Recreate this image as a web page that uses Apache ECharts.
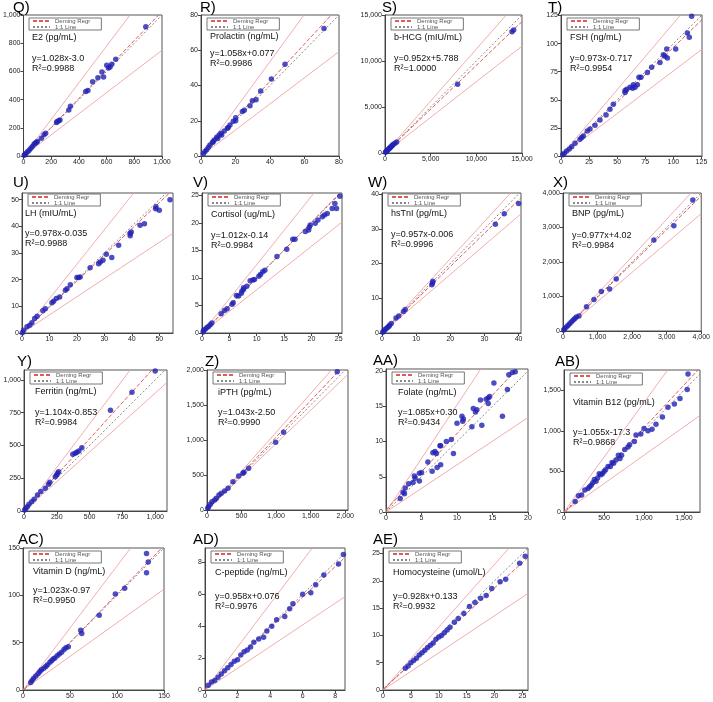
<!DOCTYPE html>
<html><head><meta charset="utf-8">
<script src="https://cdn.jsdelivr.net/npm/echarts@6/dist/echarts.min.js"></script>
<style>html,body{margin:0;padding:0;background:#fff}#c{width:713px;height:702px}</style>
</head><body><div id="c"></div><script>
// ---------- data ----------
const panelLabels = ['Q)','R)','S)','T)','U)','V)','W)','X)','Y)','Z)','AA)','AB)','AC)','AD)','AE)'];
const analytes = ['E2 (pg/mL)','Prolactin (ng/mL)','b-HCG (mIU/mL)','FSH (ng/mL)','LH (mIU/mL)','Cortisol (ug/mL)','hsTnI (pg/mL)','BNP (pg/mL)','Ferritin (ng/mL)','iPTH (pg/mL)','Folate (ng/mL)','Vitamin B12 (pg/mL)','Vitamin D (ng/mL)','C-peptide (ng/mL)','Homocysteine (umol/L)'];
const equations = ['y=1.028x-3.0','y=1.058x+0.077','y=0.952x+5.788','y=0.973x-0.717','y=0.978x-0.035','y=1.012x-0.14','y=0.957x-0.006','y=0.977x+4.02','y=1.104x-0.853','y=1.043x-2.50','y=1.085x+0.30','y=1.055x-17.3','y=1.023x-0.97','y=0.958x+0.076','y=0.928x+0.133'];
const r2Texts = ['0.9988','0.9986','1.0000','0.9954','0.9988','0.9984','0.9996','0.9984','0.9984','0.9990','0.9434','0.9868','0.9950','0.9976','0.9932'];
const demingSlopes = [1.028,1.058,0.952,0.973,0.978,1.012,0.957,0.977,1.104,1.043,1.085,1.055,1.023,0.958,0.928];
const demingIntercepts = [-3.0,0.077,5.788,-0.717,-0.035,-0.14,-0.006,4.02,-0.853,-2.50,0.30,-17.3,-0.97,0.076,0.133];
const upperSlopes = [1.30,1.34,1.13,1.18,1.29,1.24,1.07,1.08,1.33,1.11,1.52,1.35,1.31,1.35,1.15];
const lowerSlopes = [0.75,0.74,0.775,0.757,0.68,0.786,0.843,0.851,0.90,0.95,0.67,0.70,0.71,0.68,0.68];
const xMaxes = [1000,80,15000,125.5,55,25.6,40.7,4000,1090,2040,20,1700,150,8.6,26];
const yMaxes = [1000,80,15000,125.5,52.5,25.4,40.3,4000,1076,2000,20.3,1750,150,8.9,26];
const tickSteps = [200,20,5000,25,10,5,10,1000,250,500,5,500,50,2,5];

const ptsQ = [[883,917],[666,686],[637,650],[625,631],[613,624],[601,643],[578,560],[566,595],[537,555],[499,526],[465,464],[449,457],[339,352],[327,326],[263,255],[255,250],[243,245],[239,238],[160,162],[148,150],[129,126],[100,102],[92,96],[84,90],[76,83],[64,67],[53,55],[41,40],[29,31],[17,17],[10,10],[5,5]];
const ptsR = [[71.3,72.4],[48.7,52.0],[40.8,43.7],[34.6,36.9],[31.9,31.9],[29.8,31.4],[28.4,28.5],[25.1,25.9],[24.0,25.3],[20.1,21.7],[20.1,20.0],[18.7,19.7],[16.8,17.6],[15.8,16.1],[15.3,15.7],[13.5,14.2],[12.0,11.9],[11.6,12.9],[10.6,11.9],[9.7,10.0],[9.1,10.6],[7.7,9.1],[7.1,8.1],[6.6,7.6],[5.2,6.2],[4.3,4.9],[3.3,3.6],[2.3,2.5],[1.4,1.3]];
const ptsS = [[14087,13367],[13904,13185],[7950,7480],[1280,1199],[1100,1070],[915,944],[800,820],[732,763],[600,620],[549,581],[450,470],[366,400],[250,280],[183,218],[100,130],[50,70]];
const ptsT = [[116.3,124.4],[112.5,109.5],[114.2,105.7],[102.1,95.2],[94.1,95.2],[92.6,88.7],[94.7,87.2],[91.1,90.2],[88.1,83.3],[80.7,78.9],[76.9,74.4],[71.2,70.2],[69.4,70.2],[68.0,63.4],[65.9,61.3],[64.4,63.4],[63.8,60.4],[61.4,61.3],[58.5,59.5],[57.0,58.3],[57.0,56.5],[46.6,46.1],[43.6,41.7],[40.1,36.6],[34.7,32.1],[30.3,27.4],[25.8,24.1],[23.4,22.3],[19.9,17.9],[18.4,16.4],[16.9,14.9],[12.5,11.3],[9.5,8.3],[7.4,6.3],[5.0,4.5],[3.0,2.4],[1.5,1.2]];
const ptsU = [[53.9,50.0],[48.8,47.3],[48.7,46.6],[50.0,46.0],[44.6,41.0],[43.0,40.4],[39.8,37.9],[39.4,37.3],[39.4,36.5],[35.2,32.9],[32.7,28.3],[30.7,29.5],[29.5,27.3],[28.5,26.6],[27.9,26.0],[24.8,24.5],[21.2,21.0],[20.6,20.8],[20.0,20.8],[17.6,18.1],[16.4,16.6],[15.8,16.0],[13.7,13.5],[12.5,12.9],[11.5,11.9],[10.9,11.3],[8.5,9.1],[7.6,8.3],[5.5,6.3],[4.6,5.4],[3.6,3.8],[2.8,2.9],[1.8,2.3],[0.6,1.0],[0.1,0.1]];
const ptsV = [[25.2,24.8],[24.3,23.5],[24.6,22.6],[23.8,22.6],[22.9,21.7],[22.4,21.4],[22.0,21.1],[21.2,20.5],[20.7,19.9],[19.8,19.6],[19.6,19.2],[19.5,18.7],[18.9,18.4],[17.0,17.0],[16.6,17.0],[15.5,15.2],[13.7,13.9],[11.5,11.4],[11.1,11.1],[10.7,10.6],[10.4,10.3],[9.6,9.7],[9.3,9.6],[8.8,9.5],[8.2,8.5],[7.6,8.2],[7.6,7.9],[7.3,7.6],[7.2,7.2],[6.7,6.7],[6.3,6.8],[5.7,5.5],[5.5,5.2],[4.6,4.4],[4.1,4.1],[3.5,3.5],[1.8,1.8],[1.5,1.5],[1.2,1.2],[0.9,1.0],[0.6,0.7],[0.3,0.5],[0.2,0.2]];
const ptsW = [[40.0,37.3],[35.8,34.3],[33.2,31.3],[14.9,14.9],[14.8,14.4],[14.6,13.9],[6.8,6.8],[6.3,6.2],[4.9,4.9],[4.1,4.3],[2.7,2.7],[2.2,2.2],[2.0,1.9],[1.6,1.6],[1.2,1.2],[0.8,0.9],[0.5,0.5],[0.2,0.2]];
const ptsX = [[3757,3798],[3208,3048],[2630,2635],[1541,1510],[1108,1144],[1349,1221],[896,913],[680,700],[462,433],[385,404],[337,356],[289,308],[240,260],[192,212],[144,163],[96,115],[48,67],[19,29]];
const ptsY = [[1000,1069],[823,906],[659,768],[441,483],[418,458],[403,448],[390,440],[372,433],[264,300],[256,288],[249,275],[238,262],[197,219],[187,204],[162,173],[128,148],[103,122],[77,89],[59,71],[38,51],[26,33],[13,20],[5,8]];
const ptsZ = [[1884,1976],[1108,1110],[993,967],[602,595],[535,538],[520,524],[458,486],[376,405],[304,310],[255,271],[207,238],[173,214],[135,167],[111,143],[72,119],[48,81],[24,48],[10,24]];
const ptsAA = [[17.3,19.5],[17.8,19.8],[18.2,19.9],[17.1,17.4],[15.2,18.3],[14.6,16.4],[14.4,16.2],[14.1,16.0],[14.4,15.4],[13.3,15.9],[12.8,14.5],[12.6,14.2],[12.3,14.7],[16.4,13.6],[10.7,13.6],[10.9,13.2],[10.8,12.9],[10.0,12.6],[12.1,12.1],[13.5,12.3],[9.2,10.3],[8.5,10.0],[7.7,9.4],[7.6,9.4],[6.9,8.6],[6.6,8.4],[7.1,8.3],[9.5,8.3],[5.9,7.1],[7.7,6.7],[7.2,6.3],[6.5,5.8],[5.0,5.6],[4.7,5.5],[4.0,5.1],[4.1,4.8],[4.7,4.4],[3.8,4.2],[3.2,4.0],[2.7,3.4],[2.4,2.8],[2.6,2.6],[2.0,1.9]];
const ptsAB = [[1550,1700],[1540,1510],[1450,1400],[1380,1330],[1300,1290],[1230,1170],[1150,1080],[1100,1020],[1050,1000],[1000,1030],[960,960],[900,950],[880,870],[820,830],[800,800],[760,770],[720,700],[700,660],[680,700],[650,640],[620,600],[600,610],[580,560],[550,560],[520,520],[500,500],[480,470],[460,460],[440,470],[420,420],[400,380],[380,400],[360,360],[340,330],[320,310],[300,290],[260,270],[220,210],[180,200],[140,130]];
const ptsAC = [[131.4,144.1],[133.2,135.2],[131.4,123.8],[108.2,107.5],[98.2,101.4],[81.1,79.0],[61.4,63.0],[62.5,59.8],[48.2,45.6],[45.7,44.5],[43.6,42.7],[41.1,39.9],[38.6,38.1],[36.4,36.3],[33.9,33.8],[32.1,32.7],[30.4,31.0],[28.6,29.2],[26.1,26.7],[24.3,24.9],[22.1,23.1],[19.6,21.4],[17.9,19.6],[16.1,17.1],[13.6,14.9],[11.4,12.5],[9.6,10.0],[8.2,7.8]];
const ptsAD = [[8.5,8.5],[8.2,7.9],[7.3,7.2],[6.8,6.6],[6.5,6.1],[6.0,6.0],[5.4,5.4],[5.2,5.1],[4.9,4.6],[4.4,4.4],[4.1,4.0],[3.8,3.7],[3.6,3.3],[3.3,3.2],[3.0,3.0],[2.8,2.7],[2.6,2.5],[2.4,2.4],[2.2,2.2],[2.0,1.9],[1.8,1.8],[1.6,1.6],[1.4,1.4],[1.2,1.2],[1.0,1.0],[0.8,0.8],[0.6,0.6],[0.4,0.5],[0.2,0.3]];
const ptsAE = [[25.5,24.5],[24.5,23.2],[22,20.3],[21,19.8],[19.5,18.6],[18.5,17.3],[17.5,16.8],[16.5,16.0],[15.5,15.3],[14.5,14.0],[13.5,13.1],[12.8,12.4],[12,11.5],[11.5,11.0],[11,10.5],[10.5,10.0],[10,9.7],[9.5,9.3],[9,8.6],[8.5,8.2],[8,7.8],[7.5,7.3],[7,6.8],[6.5,6.4],[6,5.8],[5.5,5.4],[5,5.0],[4.5,4.4],[4,4.0]];
const panelPoints = [ptsQ,ptsR,ptsS,ptsT,ptsU,ptsV,ptsW,ptsX,ptsY,ptsZ,ptsAA,ptsAB,ptsAC,ptsAD,ptsAE];

// ---------- layout ----------
// plot rectangles: left, top, width, height
const gridRects = [
  [23,15,139,141],[201,15,138,141],[385,15,137,138],[561,15,141,141],
  [22,193,151,140],[202,193,140,140],[382,193,139,140],[563,193,139,138],
  [24,370,143,141],[207,370,141,140],[386,369,142,143],[564,370,136,142],
  [23,548,141,142],[205,548,140,142],[383,548,145,142]
];
// panel letter: x offset from plot left, y offset from plot top
const letterOffsets = [[-10,-15],[-1,-15],[-3,-15],[-13,-15],[-9,-18],[-9,-18],[-14,-18],[-10,-18],[-7,-16],[-2,-16],[-13,-16],[-9,-16],[-5,-16],[-12,-16],[-10,-16]];
// legend box: y offset from plot top
const legendTops = [3,3,3,3,1,1,1,1,2,2,3,3,3,3,3];
// annotation: left offset, analyte centre offset, equation centre offset
const textOffsets = [[9,23,44],[9,22,39],[9,23,44],[9,23,44],[3,21,41],[9,22,43],[9,21,42],[9,21,43],[11,22,43],[11,23,43],[12,24,44],[9,33,63],[10,24,43],[10,25,49],[10,25,49]];

const FONT = 'Liberation Sans, Arial, sans-serif';
function fmt(v){ return Number(v).toLocaleString('en-US'); }
function aligned(max, step){ const r = max/step; return Math.abs(r - Math.round(r)) < 1e-6; }
function seg(m, b, xm, ym){
  let x0 = 0, y0 = b;
  if (b < 0) { x0 = -b/m; y0 = 0; }
  let x1 = xm, y1 = m*xm + b;
  if (y1 > ym) { x1 = (ym - b)/m; y1 = ym; }
  return [[x0,y0],[x1,y1]];
}

const option = {animation:false, textStyle:{fontFamily:FONT}, grid:[], xAxis:[], yAxis:[], series:[], title:[], legend:[]};

panelLabels.forEach((lab, i) => {
  const [l,t,w,h] = gridRects[i];
  option.grid.push({left:l, top:t, width:w, height:h, show:true, borderColor:'#555', borderWidth:1, backgroundColor:'#fff'});
  const mk = (max) => ({
    type:'value', gridIndex:i, min:0, max:max, interval:tickSteps[i],
    splitLine:{show:false},
    axisLine:{show:true, onZero:false, lineStyle:{color:'#444', width:1}},
    axisTick:{show:true, length:3, lineStyle:{color:'#444'}},
    axisLabel:{fontSize:7, color:'#222', margin:3, fontFamily:FONT, formatter:fmt,
               showMaxLabel: aligned(max, tickSteps[i]) ? true : false}
  });
  option.xAxis.push(mk(xMaxes[i]));
  option.yAxis.push(mk(yMaxes[i]));

  const xm = xMaxes[i], ym = yMaxes[i];
  const common = {type:'line', xAxisIndex:i, yAxisIndex:i, symbol:'none', silent:true, z:2};
  option.series.push(Object.assign({}, common, {name:'upper'+i, data:seg(upperSlopes[i],0,xm,ym), lineStyle:{color:'#f2a4a4', width:0.9}}));
  option.series.push(Object.assign({}, common, {name:'lower'+i, data:seg(lowerSlopes[i],0,xm,ym), lineStyle:{color:'#f2a4a4', width:0.9}}));
  option.series.push(Object.assign({}, common, {name:'1:1 Line', data:seg(1,0,xm,ym), lineStyle:{color:'#888', width:1, type:[2,2]}}));
  option.series.push(Object.assign({}, common, {name:'Deming Regr', data:seg(demingSlopes[i],demingIntercepts[i],xm,ym), lineStyle:{color:'#e05a5a', width:1, type:[4,2]}}));
  option.series.push({type:'scatter', xAxisIndex:i, yAxisIndex:i, data:panelPoints[i], symbolSize:5.5, itemStyle:{color:'#2222b4'}, silent:true, z:4});

  option.legend.push({data:['Deming Regr','1:1 Line'], left:l+6, top:t+legendTops[i], orient:'vertical', itemGap:0,
    itemWidth:17, itemHeight:6, padding:[0,11,0,3], borderColor:'#555', borderWidth:0.8, backgroundColor:'#fff',
    itemStyle:{opacity:0, borderWidth:0}, selectedMode:false,
    textStyle:{fontSize:6, lineHeight:6, color:'#555', fontFamily:FONT}});

  const [lx, ly] = letterOffsets[i];
  option.title.push({text:lab, left:l+lx, top:Math.max(0, t+ly), padding:0, textStyle:{fontSize:15, fontWeight:'normal', color:'#000', fontFamily:FONT}});
  const [tx, ac, ec] = textOffsets[i];
  option.title.push({text:analytes[i], left:l+tx, top:t+ac-5, padding:0, textStyle:{fontSize:9, lineHeight:10, fontWeight:'normal', color:'#111', fontFamily:FONT}});
  option.title.push({text:equations[i] + '\nR²=' + r2Texts[i], left:l+tx, top:t+ec-5, padding:0, textStyle:{fontSize:9, lineHeight:10, fontWeight:'normal', color:'#111', fontFamily:FONT}});
});

const chart = echarts.init(document.getElementById('c'), null, {renderer:'canvas'});
chart.setOption(option);
</script></body></html>
